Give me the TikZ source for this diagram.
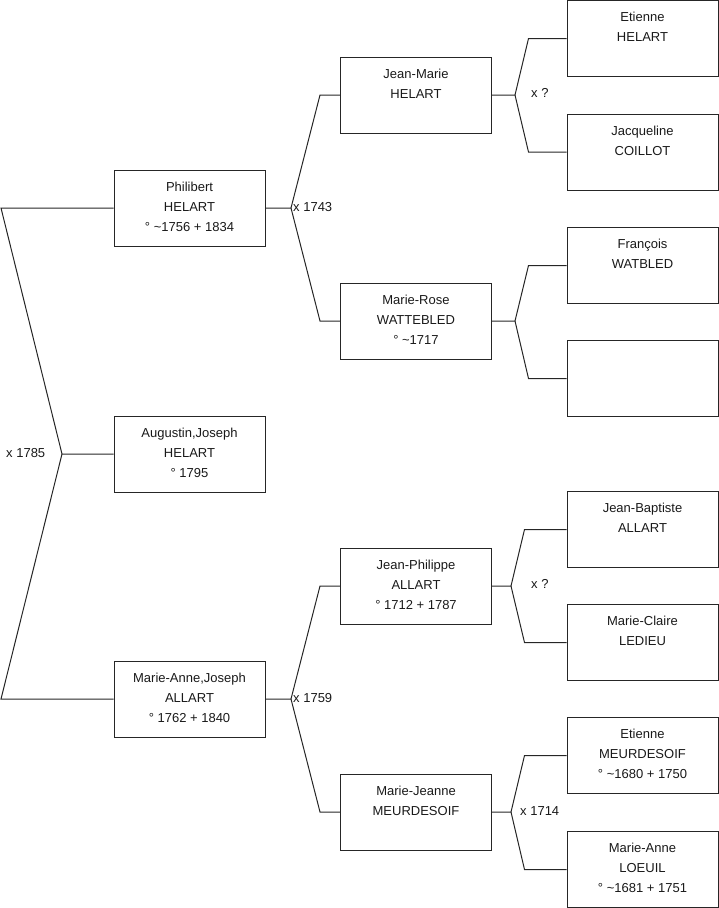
\documentclass[tikz,border=0pt]{standalone}
\usepackage{fontspec}
\setmainfont{Liberation Sans}
\newcommand{\perstext}[1]{\parbox[c][76pt][t]{150pt}{\centering\rule{0pt}{21pt}#1}}
\tikzset{
 person/.style={draw=black!85, line width=1pt, minimum width=151pt, minimum height=76pt, inner sep=0pt, font=\fontsize{13}{20}\selectfont, text=black!90},
 link/.style={draw=black!85, line width=1pt},
 mlabel/.style={anchor=west, inner sep=0pt, font=\fontsize{13}{16}\selectfont, text=black!90}
}
\begin{document}
\begin{tikzpicture}[x=1pt,y=-1pt]
\useasboundingbox (0,0) rectangle (719,908);
% column 1
\node[person] (phil) at (189.5,208) {\perstext{Philibert\\HELART\\° \textasciitilde1756 + 1834}};
\node[person] (aug) at (189.5,454) {\perstext{Augustin,Joseph\\HELART\\° 1795}};
\node[person] (mariea) at (189.5,699) {\perstext{Marie-Anne,Joseph\\ALLART\\° 1762 + 1840}};
% column 2
\node[person] (jm) at (416,95) {\perstext{Jean-Marie\\HELART}};
\node[person] (mr) at (416,321) {\perstext{Marie-Rose\\WATTEBLED\\° \textasciitilde1717}};
\node[person] (jp) at (416,586) {\perstext{Jean-Philippe\\ALLART\\° 1712 + 1787}};
\node[person] (mj) at (416,812) {\perstext{Marie-Jeanne\\MEURDESOIF}};
% column 3
\node[person] (et) at (642.5,38.5) {\perstext{Etienne\\HELART}};
\node[person] (jc) at (642.5,152) {\perstext{Jacqueline\\COILLOT}};
\node[person] (fr) at (642.5,265.5) {\perstext{François\\WATBLED}};
\node[person] (em) at (642.5,378.5) {\perstext{}};
\node[person] (jb) at (642.5,529.5) {\perstext{Jean-Baptiste\\ALLART}};
\node[person] (mc) at (642.5,642.5) {\perstext{Marie-Claire\\LEDIEU}};
\node[person] (emd) at (642.5,755.5) {\perstext{Etienne\\MEURDESOIF\\° \textasciitilde1680 + 1750}};
\node[person] (ml) at (642.5,869.5) {\perstext{Marie-Anne\\LOEUIL\\° \textasciitilde1681 + 1751}};
% junctions
\coordinate (j0) at (62,454);
\coordinate (j1) at (291,208);
\coordinate (j2) at (515,95);
\coordinate (j3) at (515,321);
\coordinate (j4) at (291,699);
\coordinate (j5) at (511,586);
\coordinate (j6) at (511,812);
% connectors
\draw[link] (aug.west) -- (j0) -- ([xshift=-112.5pt]phil.west) -- (phil.west);
\draw[link] (j0) -- ([xshift=-112.5pt]mariea.west) -- (mariea.west);
\draw[link] (phil.east) -- (j1) -- ([xshift=-20pt]jm.west) -- (jm.west);
\draw[link] (j1) -- ([xshift=-20pt]mr.west) -- (mr.west);
\draw[link] (mariea.east) -- (j4) -- ([xshift=-20pt]jp.west) -- (jp.west);
\draw[link] (j4) -- ([xshift=-20pt]mj.west) -- (mj.west);
\draw[link] (jm.east) -- (j2) -- ([xshift=-38pt]et.west) -- (et.west);
\draw[link] (j2) -- ([xshift=-38pt]jc.west) -- (jc.west);
\draw[link] (mr.east) -- (j3) -- ([xshift=-38pt]fr.west) -- (fr.west);
\draw[link] (j3) -- ([xshift=-38pt]em.west) -- (em.west);
\draw[link] (jp.east) -- (j5) -- ([xshift=-42pt]jb.west) -- (jb.west);
\draw[link] (j5) -- ([xshift=-42pt]mc.west) -- (mc.west);
\draw[link] (mj.east) -- (j6) -- ([xshift=-42pt]emd.west) -- (emd.west);
\draw[link] (j6) -- ([xshift=-42pt]ml.west) -- (ml.west);
% marriage labels
\node[mlabel] (l0) at (6,453) {x 1785};
\node[mlabel] (l1) at (293,207) {x 1743};
\node[mlabel] (l4) at (293,698) {x 1759};
\node[mlabel] (l2) at (531,93) {x ?};
\node[mlabel] (l5) at (531,584) {x ?};
\node[mlabel] (l6) at (520,811) {x 1714};
\end{tikzpicture}
\end{document}
